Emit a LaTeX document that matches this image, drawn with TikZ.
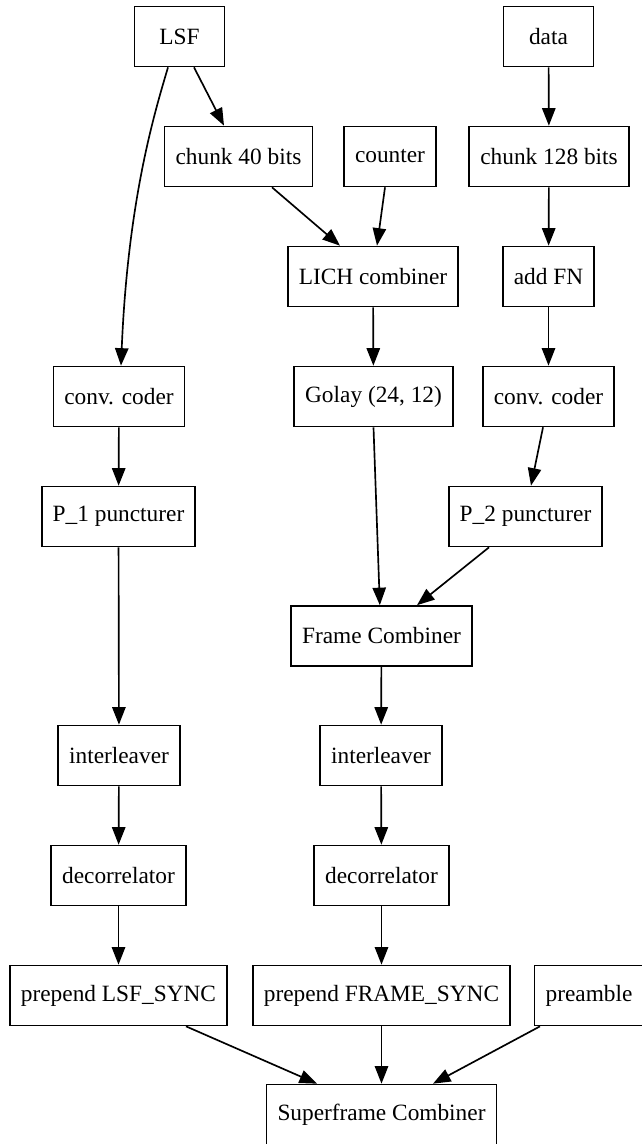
\documentclass[tikz,border=0pt]{standalone}
\usepackage{fontspec}
\setmainfont{Liberation Serif}
\usetikzlibrary{arrows.meta}

\begin{document}
\begin{tikzpicture}[x=0.6pt, y=-0.6pt,
	block/.style={draw, line width=1pt, minimum width=54pt, minimum height=36pt, inner xsep=6.6pt, inner ysep=0pt, font=\fontsize{14}{17}\selectfont},
	flow/.style={-{Triangle[length=10.5pt, width=8pt]}, line width=1pt}]
	\useasboundingbox (0,0) rectangle (641,1144);

	\node[block] (lsf) at (179.5,36.5) {LSF};
	\node[block] (data) at (548.5,36.5) {data};

	\node[block] (chunkA) at (238.5,156.5) {chunk 40 bits};
	\node[block] (counter) at (390,156.5) {counter};
	\node[block] (chunkB) at (549,156.5) {chunk 128 bits};

	\node[block] (lich) at (373,276.5) {LICH combiner};
	\node[block] (addfn) at (548.5,276.5) {add FN};

	\node[block] (convA) at (119,396.5) {conv. coder};
	\node[block] (golay) at (373.5,396.5) {Golay (24, 12)};
	\node[block] (convB) at (548.5,396.5) {conv. coder};

	\node[block] (punctA) at (118.5,516.5) {P\_1 puncturer};
	\node[block] (punctB) at (525.5,516.5) {P\_2 puncturer};

	\node[block] (frame) at (381.5,636) {Frame Combiner};

	\node[block] (interA) at (119,755.5) {interleaver};
	\node[block] (interB) at (381,755.5) {interleaver};

	\node[block] (decorA) at (118.5,875.5) {decorrelator};
	\node[block] (decorB) at (381.5,875.5) {decorrelator};

	\node[block] (syncA) at (118.5,995.5) {prepend LSF\_SYNC};
	\node[block] (syncB) at (381.5,995.5) {prepend FRAME\_SYNC};
	\node[block] (preamble) at (589,995.5) {preamble};

	\node[block] (superframe) at (381.5,1114.5) {Superframe Combiner};

	% LSF side
	\draw[flow] ([xshift=8.7pt]lsf.south) -- ([xshift=-8.7pt]chunkA.north);
	\draw[flow] ([xshift=-6.9pt]lsf.south) .. controls +(-13,44) and +(7,-167) .. ([xshift=1.2pt]convA.north);
	\draw[flow] ([xshift=20.1pt]chunkA.south) -- ([xshift=-19.8pt]lich.north);
	\draw[flow] ([xshift=-3pt]counter.south) -- ([xshift=2.4pt]lich.north);
	\draw[flow] (convA) -- (punctA);
	\draw[flow] (punctA) -- (interA);
	\draw[flow] (interA) -- (decorA);
	\draw[flow] (decorA) -- (syncA);

	% data side
	\draw[flow] (data) -- (chunkB);
	\draw[flow] (chunkB) -- (addfn);
	\draw[flow] (addfn) -- (convB);
	\draw[flow] ([xshift=-3.3pt]convB.south) -- ([xshift=3.3pt]punctB.north);
	\draw[flow] (lich) -- (golay);
	\draw[flow] (golay.south) -- ([xshift=-1pt]frame.north);
	\draw[flow] ([xshift=-21.9pt]punctB.south) -- ([xshift=21.3pt]frame.north);
	\draw[flow] (frame) -- (interB);
	\draw[flow] (interB) -- (decorB);
	\draw[flow] (decorB) -- (syncB);

	% superframe
	\draw[flow] ([xshift=40.5pt]syncA.south) -- ([xshift=-38.7pt]superframe.north);
	\draw[flow] (syncB) -- (superframe);
	\draw[flow] ([xshift=-29.4pt]preamble.south) -- ([xshift=30.9pt]superframe.north);
\end{tikzpicture}
\end{document}
